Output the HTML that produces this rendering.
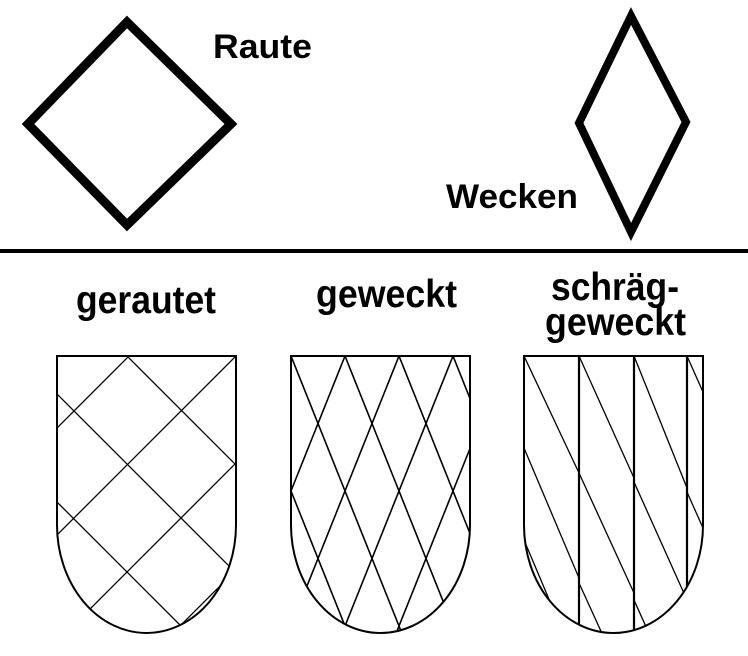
<!DOCTYPE html>
<html><head><meta charset="utf-8"><style>
html,body{margin:0;padding:0;background:#fff;overflow:hidden;width:748px;height:656px;}
svg{display:block;}
text{font-family:"Liberation Sans",sans-serif;font-weight:bold;fill:#000;}
</style></head><body>
<svg width="748" height="656" viewBox="0 0 748 656" xmlns="http://www.w3.org/2000/svg">
<defs>
<clipPath id="c1"><path d="M57,356 H236 V525 A89.5,108 0 0 1 57,525 Z"/></clipPath>
<clipPath id="c2"><path d="M291,356 H470 V525 A89.5,108 0 0 1 291,525 Z"/></clipPath>
<clipPath id="c3"><path d="M524,356 H703 V525 A89.5,108 0 0 1 524,525 Z"/></clipPath>
</defs>
<polygon points="28,124 127,22 231,124 127,225" fill="none" stroke="#000" stroke-width="9"/>
<polygon points="631,16 686,122 631,232 579,123" fill="none" stroke="#000" stroke-width="8"/>
<rect x="0" y="249" width="748" height="4" fill="#000"/>
<text x="213" y="58" font-size="34" textLength="99" lengthAdjust="spacingAndGlyphs">Raute</text>
<text x="446" y="208" font-size="34" textLength="132" lengthAdjust="spacingAndGlyphs">Wecken</text>
<text x="76" y="313" font-size="39" textLength="140" lengthAdjust="spacingAndGlyphs">gerautet</text>
<text x="316" y="307" font-size="39" textLength="141" lengthAdjust="spacingAndGlyphs">geweckt</text>
<text x="551" y="300" font-size="39" textLength="128" lengthAdjust="spacingAndGlyphs">schräg-</text>
<text x="545" y="335" font-size="39" textLength="141" lengthAdjust="spacingAndGlyphs">geweckt</text>

<g clip-path="url(#c1)" stroke="#000" stroke-width="1.3">
<line x1="-100" y1="585" x2="300" y2="185"/>
<line x1="-100" y1="692" x2="400" y2="192"/>
<line x1="0" y1="699" x2="400" y2="299"/>
<line x1="100" y1="706" x2="400" y2="406"/>
<line x1="0" y1="337" x2="300" y2="637"/>
<line x1="0" y1="445" x2="200" y2="645"/>
<line x1="0" y1="553" x2="100" y2="653"/>
<line x1="0" y1="229" x2="400" y2="629"/>
<line x1="0" y1="121" x2="400" y2="521"/>
</g>
<path d="M57,356 H236 V525 A89.5,108 0 0 1 57,525 Z" fill="none" stroke="#000" stroke-width="2"/>

<g clip-path="url(#c2)" stroke="#000" stroke-width="1.6">
<line x1="183" y1="356" x2="303" y2="656"/>
<line x1="237" y1="356" x2="357" y2="656"/>
<line x1="291" y1="356" x2="411" y2="656"/>
<line x1="345" y1="356" x2="465" y2="656"/>
<line x1="399" y1="356" x2="519" y2="656"/>
<line x1="453" y1="356" x2="573" y2="656"/>
<line x1="345" y1="356" x2="225" y2="656"/>
<line x1="399" y1="356" x2="279" y2="656"/>
<line x1="453" y1="356" x2="333" y2="656"/>
<line x1="507" y1="356" x2="387" y2="656"/>
<line x1="561" y1="356" x2="441" y2="656"/>
<line x1="615" y1="356" x2="495" y2="656"/>
</g>
<path d="M291,356 H470 V525 A89.5,108 0 0 1 291,525 Z" fill="none" stroke="#000" stroke-width="2"/>

<g clip-path="url(#c3)" stroke="#000" stroke-width="1.3">
<line x1="524" y1="356" x2="579" y2="473"/>
<line x1="524" y1="448" x2="579" y2="578"/>
<line x1="524" y1="540" x2="570" y2="649"/>
<line x1="579" y1="356" x2="634" y2="478"/>
<line x1="579" y1="473" x2="634" y2="593"/>
<line x1="579" y1="583" x2="610" y2="651"/>
<line x1="634" y1="356" x2="687" y2="488"/>
<line x1="634" y1="482" x2="687" y2="600"/>
<line x1="634" y1="600" x2="656" y2="649"/>
<line x1="687" y1="356" x2="703" y2="392"/>
<line x1="687" y1="492" x2="703" y2="528"/>
<line x1="579" y1="356" x2="579" y2="650" stroke-width="2.2"/>
<line x1="634" y1="356" x2="634" y2="650" stroke-width="2.2"/>
<line x1="687" y1="356" x2="687" y2="650" stroke-width="2.2"/>
</g>
<path d="M524,356 H703 V525 A89.5,108 0 0 1 524,525 Z" fill="none" stroke="#000" stroke-width="2"/>
</svg>
</body></html>
